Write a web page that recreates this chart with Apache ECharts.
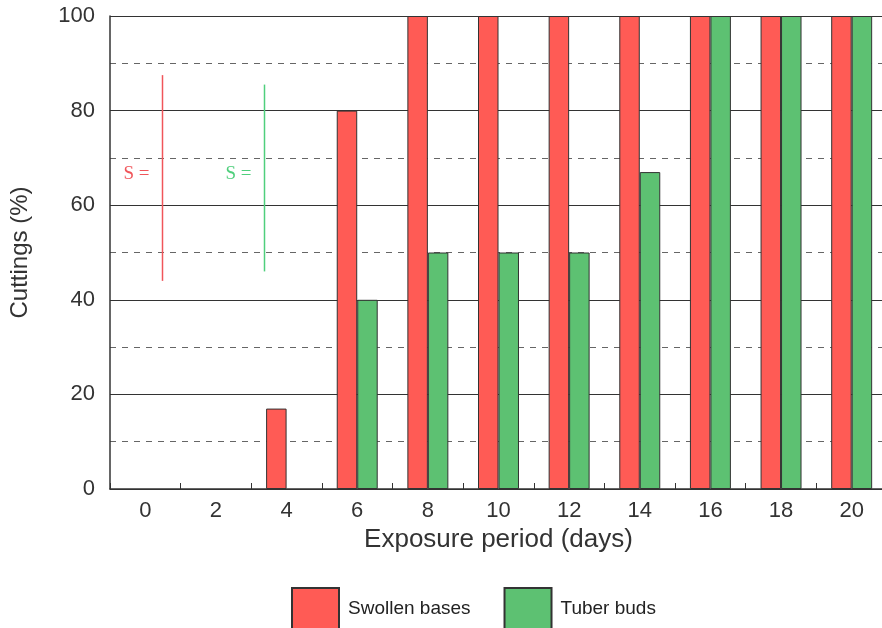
<!DOCTYPE html>
<html>
<head>
<meta charset="utf-8">
<script src="https://cdn.jsdelivr.net/npm/echarts@6/dist/echarts.min.js"></script>
<style>
  html, body { margin: 0; padding: 0; background: #fff; }
  #chart { width: 882px; height: 628px; }
</style>
</head>
<body>
<div id="chart"></div>
<script>
// exposure period (days)
const days = ['0', '2', '4', '6', '8', '10', '12', '14', '16', '18', '20']
// cuttings (%)
const swollenBases = [0, 0, 17, 80, 100, 100, 100, 100, 100, 100, 100]
const tuberBuds = [0, 0, 0, 40, 50, 50, 50, 67, 100, 100, 100]
// "S =" bars: x offset from category 0 (in category widths), y range in %
const sLabels = ['S =', 'S =']
const sOffsets = [0.24, 1.68]
const sFrom = [44, 46]
const sTo = [87.5, 85.5]
const sColors = ['#f0555a', '#4fcf7c']

const red = '#ff5b55'
const green = '#5dc172'
const font = 'Liberation Sans, Arial, sans-serif'

// zero bars are not drawn in the original
const hideZero = arr => arr.map(v => (v === 0 ? '-' : v))

const chart = echarts.init(document.getElementById('chart'))

chart.setOption({
  animation: false,
  grid: { left: 110, right: -5, top: 16, bottom: 139, outerBoundsMode: 'none', containLabel: false },
  legend: {
    left: 291,
    top: 587,
    padding: 0,
    itemWidth: 47,
    itemHeight: 42,
    itemGap: 33,
    icon: 'rect',
    textStyle: { fontFamily: font, fontSize: 19, color: '#222', padding: [0, 0, 0, 4] },
    data: ['Swollen bases', 'Tuber buds']
  },
  xAxis: {
    type: 'category',
    data: days,
    name: 'Exposure period (days)',
    nameLocation: 'middle',
    nameGap: 35,
    nameTextStyle: { fontFamily: font, fontSize: 26, color: '#333' },
    axisLine: { lineStyle: { color: '#333', width: 1.5 } },
    axisTick: { show: true, inside: true, length: 6, lineStyle: { color: '#333' } },
    axisLabel: { fontFamily: font, fontSize: 22, color: '#333', margin: 11 }
  },
  yAxis: {
    type: 'value',
    min: 0,
    max: 100,
    interval: 20,
    name: 'Cuttings (%)',
    nameLocation: 'middle',
    nameGap: 78,
    nameTextStyle: { fontFamily: font, fontSize: 24, color: '#333' },
    axisLine: { show: true, lineStyle: { color: '#333', width: 1.5 } },
    axisTick: { show: false },
    axisLabel: { fontFamily: font, fontSize: 22, color: '#333', margin: 15 },
    splitLine: { show: true, lineStyle: { color: '#333', width: 1.2 } },
    minorTick: { show: false, splitNumber: 2 },
    minorSplitLine: { show: true, lineStyle: { color: '#666', type: [6, 6], width: 1 } }
  },
  series: [
    {
      name: 'Swollen bases',
      type: 'bar',
      data: hideZero(swollenBases),
      barWidth: '29%',
      barGap: 0,
      itemStyle: { color: red, borderColor: '#333', borderWidth: 1 }
    },
    {
      name: 'Tuber buds',
      type: 'bar',
      data: hideZero(tuberBuds),
      barWidth: '29%',
      itemStyle: { color: green, borderColor: '#333', borderWidth: 1 }
    }
  ]
})

// place the S = annotations through the axes
const x0 = chart.convertToPixel({ xAxisIndex: 0 }, days[0])
const x1 = chart.convertToPixel({ xAxisIndex: 0 }, days[1])
const catW = x1 - x0
const elements = []
sLabels.forEach((label, i) => {
  const x = Math.round(x0 + sOffsets[i] * catW) + 0.5
  const yTop = chart.convertToPixel({ yAxisIndex: 0 }, sTo[i])
  const yBot = chart.convertToPixel({ yAxisIndex: 0 }, sFrom[i])
  elements.push({
    type: 'line',
    shape: { x1: x, y1: yTop, x2: x, y2: yBot },
    style: { stroke: sColors[i], lineWidth: 1.5 }
  })
  elements.push({
    type: 'text',
    x: x - 13,
    y: (yTop + yBot) / 2 - 4,
    style: {
      text: label,
      fill: sColors[i],
      font: '19px "Liberation Serif", serif',
      align: 'right',
      verticalAlign: 'middle'
    }
  })
})
chart.setOption({ graphic: elements })
</script>
</body>
</html>
